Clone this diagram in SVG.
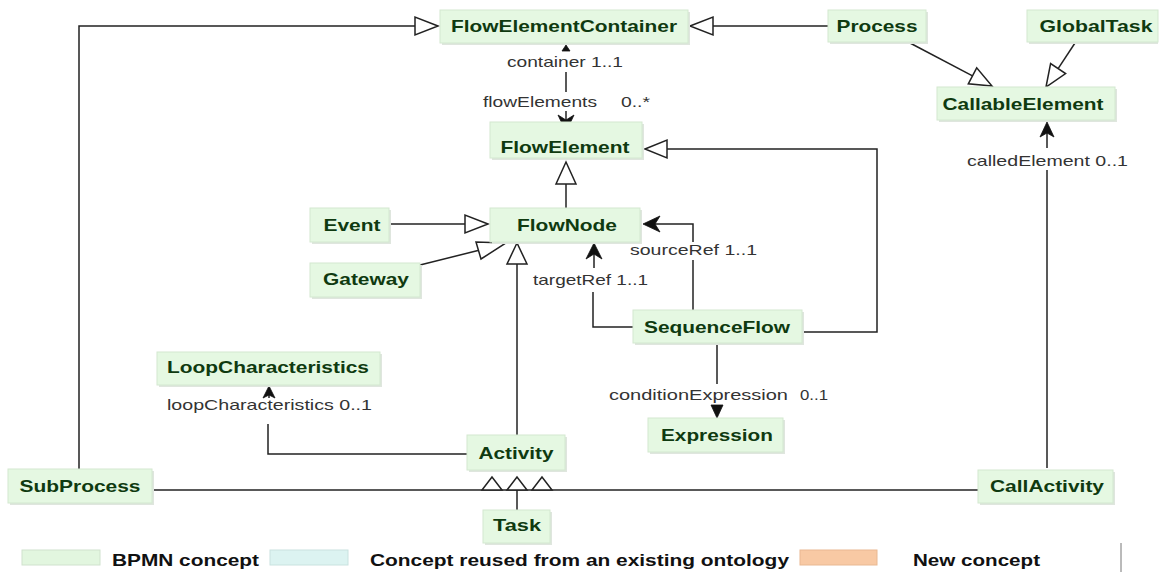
<svg xmlns="http://www.w3.org/2000/svg" width="1160" height="572" viewBox="0 0 1160 572">
<style>
.box{fill:#e5f8e2;stroke:#d3e8d0;stroke-width:1}
.shd{fill:#dfe6de}
.nt{font-family:"Liberation Sans",Arial,sans-serif;font-weight:bold;font-size:17px;fill:#0f3a10;text-anchor:middle}
.lt{font-family:"Liberation Sans",Arial,sans-serif;font-size:15px;fill:#333}
.gt{font-family:"Liberation Sans",Arial,sans-serif;font-weight:bold;font-size:17px;fill:#111}
.ln{fill:none;stroke:#222;stroke-width:1.5}
.tri{fill:#fff;stroke:#222;stroke-width:1.5;stroke-linejoin:miter}
.arr{fill:#111;stroke:#111;stroke-width:0.8;stroke-linejoin:miter}
</style>
<rect width="1160" height="572" fill="#fff"/>
<g id="connectors">
  <!-- SubProcess -> FlowElementContainer -->
  <polyline class="ln" points="79,469 79,26 415,26"/>
  <polygon class="tri" points="438,26 415,17 415,35"/>
  <!-- Process -> FlowElementContainer -->
  <line class="ln" x1="713" y1="26" x2="828" y2="26"/>
  <polygon class="tri" points="690,26 713,17 713,35"/>
  <!-- Process -> CallableElement -->
  <line class="ln" x1="910" y1="43" x2="972.5" y2="75.8"/>
  <polygon class="tri" points="992,86 968.3,83.8 976.7,67.8"/>
  <!-- GlobalTask -> CallableElement -->
  <line class="ln" x1="1075" y1="43" x2="1058.1" y2="68.6"/>
  <polygon class="tri" points="1046,87 1050.6,63.6 1065.6,73.5"/>
  <!-- container / flowElements -->
  <polygon class="arr" points="566,45 562,51 570,51"/>
  <line class="ln" x1="566" y1="72" x2="566" y2="92"/>
  <line class="ln" x1="566" y1="111" x2="566" y2="120"/>
  <polygon class="arr" points="566,132 558,115 566,120 574,115"/>
  <!-- FlowNode -> FlowElement -->
  <line class="ln" x1="566" y1="184" x2="566" y2="208"/>
  <polygon class="tri" points="566,162 556,184 576,184"/>
  <!-- SequenceFlow -> FlowElement -->
  <polyline class="ln" points="802,332 877,332 877,149 667,149"/>
  <polygon class="tri" points="645,149 667,140 667,158"/>
  <!-- Event -> FlowNode -->
  <line class="ln" x1="389" y1="224" x2="465" y2="224"/>
  <polygon class="tri" points="488,224 465,215 465,233"/>
  <!-- Gateway -> FlowNode -->
  <line class="ln" x1="420" y1="265" x2="478" y2="250.5"/>
  <polygon class="tri" points="506,243 476,242 481,259"/>
  <!-- Activity -> FlowNode -->
  <line class="ln" x1="517" y1="264" x2="517" y2="435"/>
  <polygon class="tri" points="517,243 507,264 527,264"/>
  <!-- sourceRef -->
  <polyline class="ln" points="693,310 693,260"/>
  <polyline class="ln" points="693,242 693,224 652,224"/>
  <polygon class="arr" points="643,224 660,216 655,224 660,232"/>
  <!-- targetRef -->
  <polyline class="ln" points="633,327 593,327 593,292"/>
  <line class="ln" x1="594" y1="250" x2="594" y2="268"/>
  <polygon class="arr" points="594,243 586,259 594,254 602,259"/>
  <!-- conditionExpression -->
  <line class="ln" x1="717" y1="343" x2="717" y2="384"/>
  <polygon class="arr" points="717,418 711,405 723,405"/>
  <!-- loopCharacteristics -->
  <polyline class="ln" points="467,454 268,454 268,424"/>
  <line class="ln" x1="269" y1="390" x2="269" y2="398"/>
  <polygon class="arr" points="269,386 263,398 269,395 275,398"/>
  <!-- calledElement -->
  <line class="ln" x1="1047" y1="468" x2="1047" y2="170"/>
  <line class="ln" x1="1047" y1="128" x2="1047" y2="148"/>
  <polygon class="arr" points="1047,122 1040,137 1047,133 1054,137"/>
  <!-- SubProcess / Task / CallActivity -> Activity -->
  <line class="ln" x1="152" y1="490" x2="978" y2="490"/>
  <line class="ln" x1="517" y1="490" x2="517" y2="510"/>
  <polygon class="tri" points="492,477 482,490 502,490"/>
  <polygon class="tri" points="517,477 507,490 527,490"/>
  <polygon class="tri" points="542,477 532,490 552,490"/>
  <!-- labels -->
  <text class="lt" x="507" y="67" textLength="116" lengthAdjust="spacingAndGlyphs">container 1..1</text>
  <text class="lt" x="483" y="107" textLength="114" lengthAdjust="spacingAndGlyphs">flowElements</text>
  <text class="lt" x="621" y="107" textLength="29" lengthAdjust="spacingAndGlyphs">0..*</text>
  <text class="lt" x="630" y="255" textLength="127" lengthAdjust="spacingAndGlyphs">sourceRef 1..1</text>
  <text class="lt" x="533" y="285" textLength="115" lengthAdjust="spacingAndGlyphs">targetRef 1..1</text>
  <text class="lt" x="609" y="400" textLength="179" lengthAdjust="spacingAndGlyphs">conditionExpression</text>
  <text class="lt" x="800" y="400" textLength="28" lengthAdjust="spacingAndGlyphs">0..1</text>
  <text class="lt" x="167" y="410" textLength="205" lengthAdjust="spacingAndGlyphs">loopCharacteristics 0..1</text>
  <text class="lt" x="967" y="166" textLength="161" lengthAdjust="spacingAndGlyphs">calledElement 0..1</text>
</g>
<g id="FlowElementContainer"><rect class="shd" x="442" y="12" width="248" height="33"/><rect class="box" x="440" y="10" width="248" height="33"/><text class="nt" x="564" y="32" textLength="226" lengthAdjust="spacingAndGlyphs">FlowElementContainer</text></g>
<g id="Process"><rect class="shd" x="830" y="12" width="98" height="32"/><rect class="box" x="828" y="10" width="98" height="32"/><text class="nt" x="877" y="32" textLength="81" lengthAdjust="spacingAndGlyphs">Process</text></g>
<g id="GlobalTask"><rect class="shd" x="1029" y="12" width="129" height="32"/><rect class="box" x="1027" y="10" width="131" height="32"/><text class="nt" x="1096" y="32" textLength="113" lengthAdjust="spacingAndGlyphs">GlobalTask</text></g>
<g id="CallableElement"><rect class="shd" x="939" y="89" width="178" height="33"/><rect class="box" x="937" y="87" width="178" height="33"/><text class="nt" x="1023" y="110" textLength="161" lengthAdjust="spacingAndGlyphs">CallableElement</text></g>
<g id="FlowElement"><rect class="shd" x="492" y="124" width="152" height="36"/><rect class="box" x="490" y="122" width="152" height="36"/><text class="nt" x="565" y="153" textLength="129" lengthAdjust="spacingAndGlyphs">FlowElement</text></g>
<g id="Event"><rect class="shd" x="312" y="210" width="79" height="34"/><rect class="box" x="310" y="208" width="79" height="34"/><text class="nt" x="352" y="231" textLength="57" lengthAdjust="spacingAndGlyphs">Event</text></g>
<g id="FlowNode"><rect class="shd" x="492" y="210" width="150" height="34"/><rect class="box" x="490" y="208" width="150" height="34"/><text class="nt" x="567" y="231" textLength="100" lengthAdjust="spacingAndGlyphs">FlowNode</text></g>
<g id="Gateway"><rect class="shd" x="312" y="265" width="110" height="34"/><rect class="box" x="310" y="263" width="110" height="34"/><text class="nt" x="366" y="285" textLength="86" lengthAdjust="spacingAndGlyphs">Gateway</text></g>
<g id="SequenceFlow"><rect class="shd" x="635" y="312" width="169" height="33"/><rect class="box" x="633" y="310" width="169" height="33"/><text class="nt" x="717" y="333" textLength="146" lengthAdjust="spacingAndGlyphs">SequenceFlow</text></g>
<g id="LoopCharacteristics"><rect class="shd" x="159" y="354" width="223" height="33"/><rect class="box" x="157" y="352" width="223" height="33"/><text class="nt" x="268" y="373" textLength="202" lengthAdjust="spacingAndGlyphs">LoopCharacteristics</text></g>
<g id="Expression"><rect class="shd" x="650" y="420" width="135" height="34"/><rect class="box" x="648" y="418" width="135" height="34"/><text class="nt" x="717" y="441" textLength="112" lengthAdjust="spacingAndGlyphs">Expression</text></g>
<g id="Activity"><rect class="shd" x="469" y="437" width="98" height="35"/><rect class="box" x="467" y="435" width="98" height="35"/><text class="nt" x="516" y="459" textLength="75" lengthAdjust="spacingAndGlyphs">Activity</text></g>
<g id="SubProcess"><rect class="shd" x="10" y="471" width="144" height="34"/><rect class="box" x="8" y="469" width="144" height="34"/><text class="nt" x="80" y="492" textLength="121" lengthAdjust="spacingAndGlyphs">SubProcess</text></g>
<g id="CallActivity"><rect class="shd" x="980" y="472" width="135" height="33"/><rect class="box" x="978" y="470" width="135" height="33"/><text class="nt" x="1047" y="492" textLength="114" lengthAdjust="spacingAndGlyphs">CallActivity</text></g>
<g id="Task"><rect class="shd" x="485" y="512" width="67" height="33"/><rect class="box" x="483" y="510" width="67" height="33"/><text class="nt" x="517" y="531" textLength="48" lengthAdjust="spacingAndGlyphs">Task</text></g>
<g id="legend">
  <rect x="22" y="550" width="78" height="15" fill="#e2f6df" stroke="#d0e2cd" stroke-width="1"/>
  <text class="gt" x="112" y="566" textLength="147" lengthAdjust="spacingAndGlyphs">BPMN concept</text>
  <rect x="270" y="550" width="78" height="15" fill="#dcf3f1" stroke="#c9e2df" stroke-width="1"/>
  <text class="gt" x="370" y="566" textLength="419" lengthAdjust="spacingAndGlyphs">Concept reused from an existing ontology</text>
  <rect x="800" y="550" width="77" height="15" fill="#f8c9a4" stroke="#e9b892" stroke-width="1"/>
  <text class="gt" x="913" y="566" textLength="127" lengthAdjust="spacingAndGlyphs">New concept</text>
  <line x1="1121" y1="543" x2="1121" y2="572" stroke="#777" stroke-width="1"/>
</g>
</svg>
